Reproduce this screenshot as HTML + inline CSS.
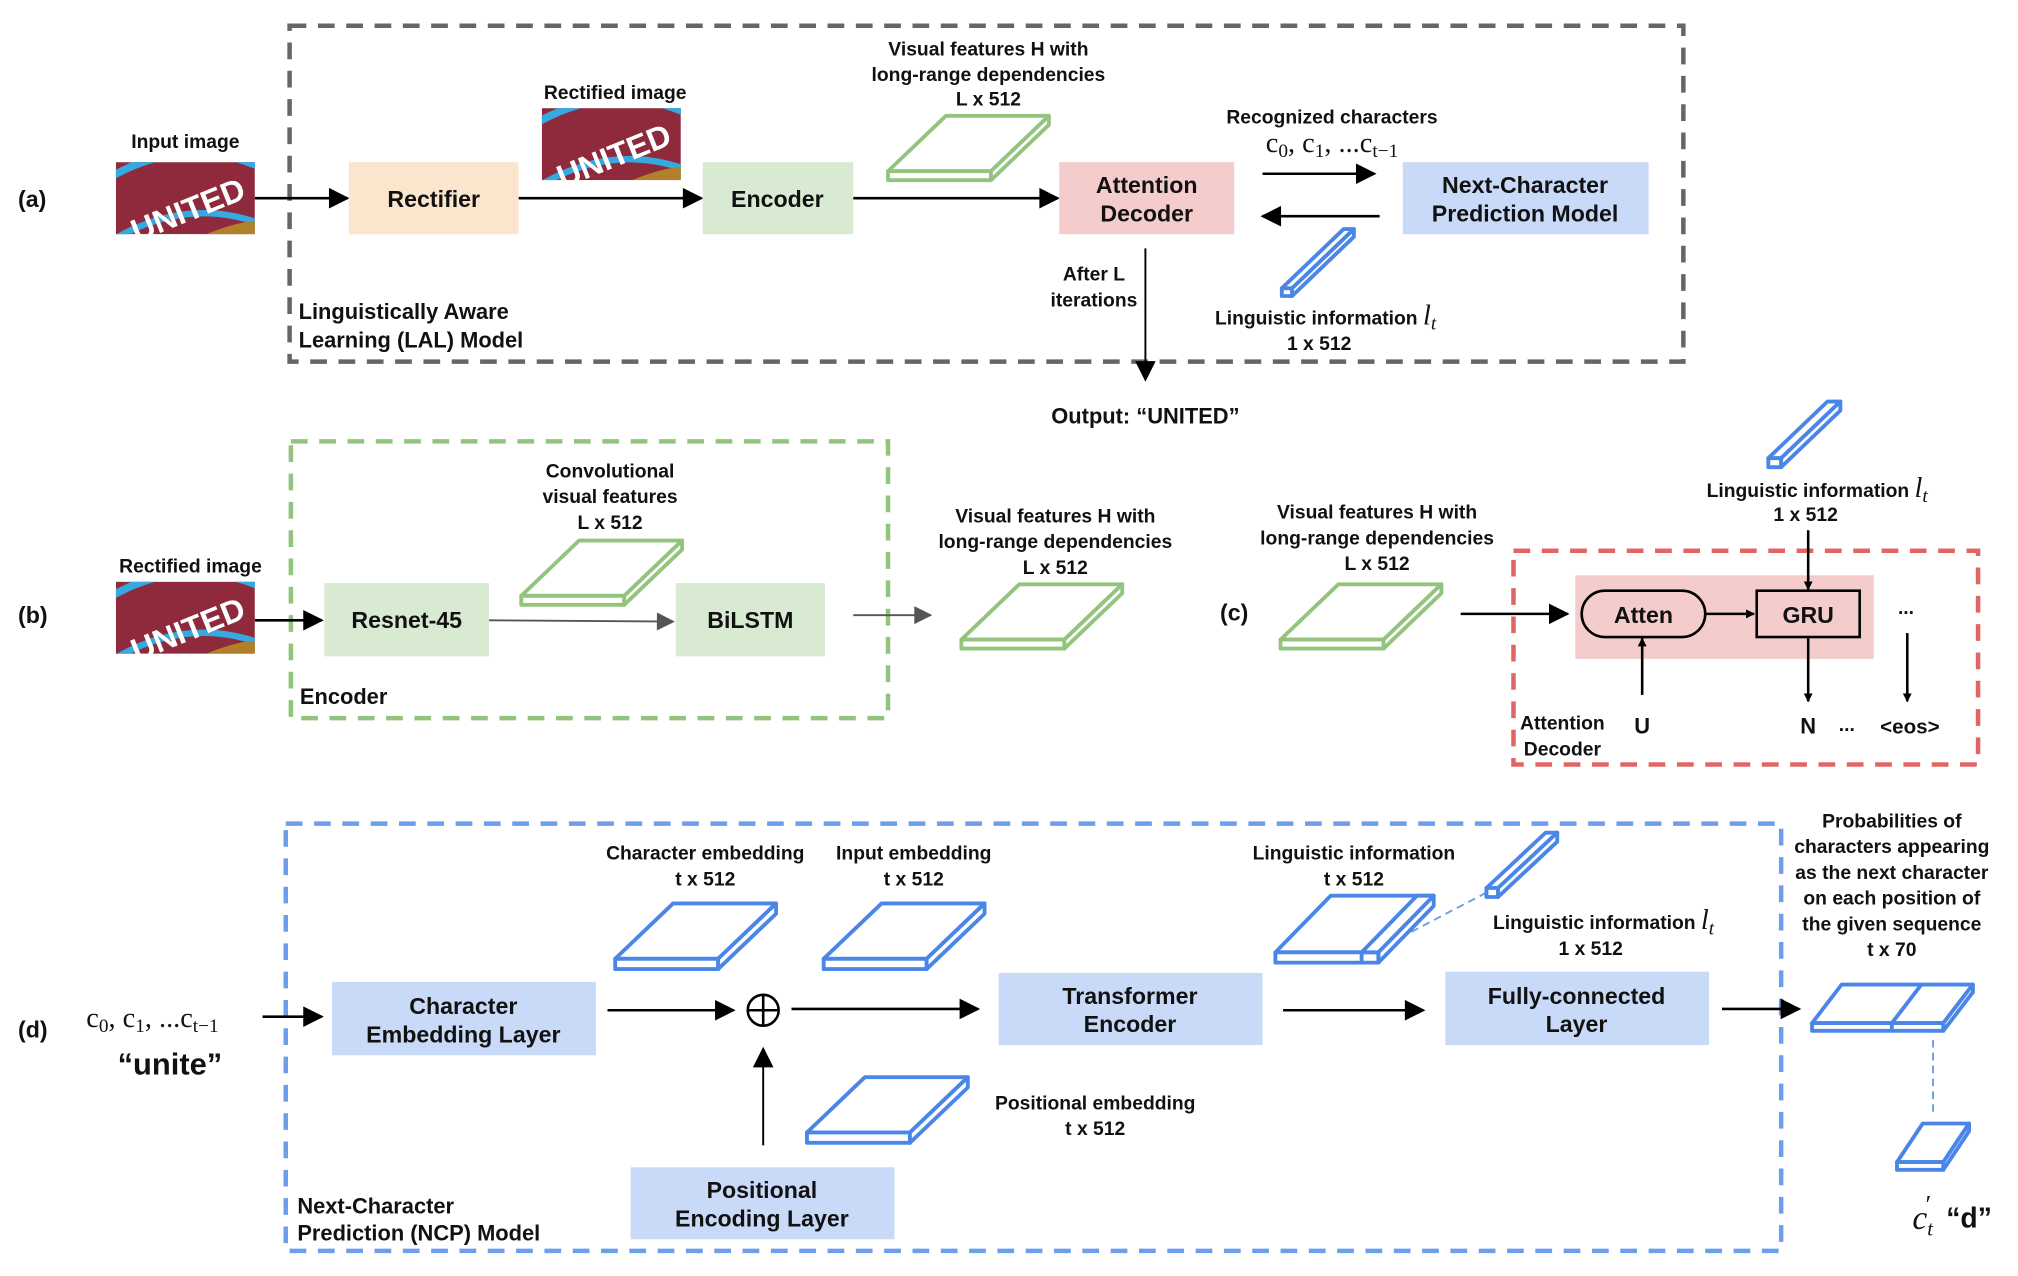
<!DOCTYPE html>
<html><head><meta charset="utf-8"><style>
html,body{margin:0;padding:0;background:#fff}
svg{display:block}
text{font-family:"Liberation Sans",sans-serif;font-weight:bold;fill:#111}
.s{font-family:"Liberation Serif",serif;font-weight:normal}
</style></head><body>
<svg width="2018" height="1276" viewBox="0 0 1568 991.5" xmlns="http://www.w3.org/2000/svg">
<defs>
<marker id="ah" viewBox="0 0 10 10" refX="9" refY="5" markerWidth="7" markerHeight="7" markerUnits="userSpaceOnUse" orient="auto"><path d="M0,0L10,5L0,10z" fill="#000"/></marker>
<marker id="ab" viewBox="0 0 10 10" refX="9" refY="5" markerWidth="18" markerHeight="16" markerUnits="userSpaceOnUse" orient="auto"><path d="M0,0L10,5L0,10z" fill="#000"/></marker>
<marker id="ag" viewBox="0 0 10 10" refX="9" refY="5" markerWidth="18" markerHeight="14" markerUnits="userSpaceOnUse" orient="auto"><path d="M0,0L10,5L0,10z" fill="#555"/></marker>
<clipPath id="cp"><rect width="108" height="56"/></clipPath>
<g id="img">
<g clip-path="url(#cp)">
<rect width="108" height="56" fill="#8e2a3c"/>
<path d="M-5,12 Q54,-22 113,4" stroke="#35a9e0" stroke-width="6" fill="none"/>
<path d="M-5,62 Q54,26 113,48" stroke="#35a9e0" stroke-width="5" fill="none"/>
<path d="M70,56 Q95,46 108,46 L108,56z" fill="#b0802a"/>
<text x="54" y="46" text-anchor="middle" transform="rotate(-22 54 32)" style="fill:#fff;font-size:25px">UNITED</text>
</g>
</g>
</defs>

<!-- (a) -->
<rect x="225" y="20" width="1083" height="261" fill="none" stroke="#666" stroke-width="3.5" stroke-dasharray="13 9"/>
<text x="14" y="161" font-size="18">(a)</text>
<text x="144" y="115" font-size="15" text-anchor="middle">Input image</text>
<use href="#img" x="90" y="126"/>
<line x1="198" y1="154" x2="270" y2="154" stroke="#000" stroke-width="2" marker-end="url(#ab)"/>
<rect x="271" y="126" width="132" height="56" fill="#fce5cd"/>
<text x="337" y="161" font-size="18" text-anchor="middle">Rectifier</text>
<text x="478" y="77" font-size="15" text-anchor="middle">Rectified image</text>
<use href="#img" x="421" y="84"/>
<line x1="403" y1="154" x2="545" y2="154" stroke="#000" stroke-width="2" marker-end="url(#ab)"/>
<rect x="546" y="126" width="117" height="56" fill="#d9ead3"/>
<text x="604" y="161" font-size="18" text-anchor="middle">Encoder</text>
<text x="768" y="43" font-size="15" text-anchor="middle">Visual features H with</text>
<text x="768" y="63" font-size="15" text-anchor="middle">long-range dependencies</text>
<text x="768" y="82" font-size="15" text-anchor="middle">L x 512</text>
<line x1="663" y1="154" x2="822" y2="154" stroke="#000" stroke-width="2" marker-end="url(#ab)"/>
<rect x="823" y="126" width="136" height="56" fill="#f4cccc"/>
<text x="891" y="150" font-size="18" text-anchor="middle">Attention</text>
<text x="891" y="172" font-size="18" text-anchor="middle">Decoder</text>
<text x="1035" y="96" font-size="15" text-anchor="middle">Recognized characters</text>
<text x="1035" y="118" class="s" font-size="22" text-anchor="middle">c<tspan font-size="15" dy="4">0</tspan><tspan dy="-4">, c</tspan><tspan font-size="15" dy="4">1</tspan><tspan dy="-4">, ...c</tspan><tspan font-size="15" dy="4">t−1</tspan></text>
<line x1="981" y1="135" x2="1068" y2="135" stroke="#000" stroke-width="2" marker-end="url(#ab)"/>
<line x1="1072" y1="168" x2="981" y2="168" stroke="#000" stroke-width="2" marker-end="url(#ab)"/>
<rect x="1090" y="126" width="191" height="56" fill="#c9daf8"/>
<text x="1185" y="150" font-size="18" text-anchor="middle">Next-Character</text>
<text x="1185" y="172" font-size="18" text-anchor="middle">Prediction Model</text>
<g fill="#fff" stroke="#4a86e8" stroke-width="3" stroke-linejoin="round">
<polygon points="996,224 1004,224 1052,178 1044,178"/><rect x="996" y="224" width="8" height="6"/><polygon points="1004,224 1052,178 1052,184 1004,230"/></g>
<text x="1030" y="252" font-size="15" text-anchor="middle">Linguistic information <tspan class="s" font-style="italic" font-size="22">l<tspan font-size="15" dy="4">t</tspan></tspan></text>
<text x="1025" y="272" font-size="15" text-anchor="middle">1 x 512</text>
<line x1="890" y1="193" x2="890" y2="295" stroke="#000" stroke-width="1.5" marker-end="url(#ab)"/>
<text x="850" y="218" font-size="15" text-anchor="middle">After L</text>
<text x="850" y="238" font-size="15" text-anchor="middle">iterations</text>
<text x="232" y="248" font-size="17">Linguistically Aware</text>
<text x="232" y="270" font-size="17">Learning (LAL) Model</text>
<text x="890" y="329" font-size="17" text-anchor="middle">Output: “UNITED”</text>

<g fill="#fff" stroke="#93c47d" stroke-width="3" stroke-linejoin="round">
<polygon points="690,133 770,133 815,90 735,90"/><rect x="690" y="133" width="80" height="7"/><polygon points="770,133 815,90 815,97 770,140"/>
<polygon points="405,463 485,463 530,420 450,420"/><rect x="405" y="463" width="80" height="7"/><polygon points="485,463 530,420 530,427 485,470"/>
<polygon points="747,497 827,497 872,454 792,454"/><rect x="747" y="497" width="80" height="7"/><polygon points="827,497 872,454 872,461 827,504"/>
<polygon points="995,497 1075,497 1120,454 1040,454"/><rect x="995" y="497" width="80" height="7"/><polygon points="1075,497 1120,454 1120,461 1075,504"/>
</g>

<!-- (b) -->
<rect x="226" y="343" width="464" height="215" fill="none" stroke="#93c47d" stroke-width="3.5" stroke-dasharray="13 9"/>
<text x="14" y="484" font-size="18">(b)</text>
<text x="148" y="445" font-size="15" text-anchor="middle">Rectified image</text>
<use href="#img" x="90" y="452"/>
<line x1="198" y1="482" x2="250" y2="482" stroke="#000" stroke-width="2" marker-end="url(#ab)"/>
<rect x="252" y="453" width="128" height="57" fill="#d9ead3"/>
<text x="316" y="488" font-size="18" text-anchor="middle">Resnet-45</text>
<line x1="380" y1="482" x2="523" y2="483" stroke="#555" stroke-width="1.5" marker-end="url(#ag)"/>
<rect x="525" y="453" width="116" height="57" fill="#d9ead3"/>
<text x="583" y="488" font-size="18" text-anchor="middle">BiLSTM</text>
<text x="474" y="371" font-size="15" text-anchor="middle">Convolutional</text>
<text x="474" y="391" font-size="15" text-anchor="middle">visual features</text>
<text x="474" y="411" font-size="15" text-anchor="middle">L x 512</text>
<text x="233" y="547" font-size="17">Encoder</text>
<line x1="663" y1="478" x2="723" y2="478" stroke="#555" stroke-width="1.5" marker-end="url(#ag)"/>
<text x="820" y="406" font-size="15" text-anchor="middle">Visual features H with</text>
<text x="820" y="426" font-size="15" text-anchor="middle">long-range dependencies</text>
<text x="820" y="446" font-size="15" text-anchor="middle">L x 512</text>

<!-- (c) -->
<text x="948" y="482" font-size="18">(c)</text>
<text x="1070" y="403" font-size="15" text-anchor="middle">Visual features H with</text>
<text x="1070" y="423" font-size="15" text-anchor="middle">long-range dependencies</text>
<text x="1070" y="443" font-size="15" text-anchor="middle">L x 512</text>
<line x1="1135" y1="477" x2="1218" y2="477" stroke="#000" stroke-width="2" marker-end="url(#ab)"/>
<rect x="1176" y="428" width="361" height="166" fill="none" stroke="#e06666" stroke-width="3.5" stroke-dasharray="13 9"/>
<rect x="1224" y="447" width="232" height="65" fill="#f4cccc"/>
<rect x="1229" y="459" width="96" height="36" rx="18" fill="#f4cccc" stroke="#000" stroke-width="2"/>
<text x="1277" y="484" font-size="18" text-anchor="middle">Atten</text>
<line x1="1325" y1="477" x2="1363" y2="477" stroke="#000" stroke-width="2" marker-end="url(#ah)"/>
<rect x="1365" y="459" width="80" height="36" fill="#f4cccc" stroke="#000" stroke-width="2"/>
<text x="1405" y="484" font-size="18" text-anchor="middle">GRU</text>
<g fill="#fff" stroke="#4a86e8" stroke-width="3" stroke-linejoin="round">
<polygon points="1374,356 1384,356 1430,312 1420,312"/><rect x="1374" y="356" width="10" height="7"/><polygon points="1384,356 1430,312 1430,319 1384,363"/></g>
<text x="1412" y="386" font-size="15" text-anchor="middle">Linguistic information <tspan class="s" font-style="italic" font-size="22">l<tspan font-size="15" dy="4">t</tspan></tspan></text>
<text x="1403" y="405" font-size="15" text-anchor="middle">1 x 512</text>
<line x1="1405" y1="412" x2="1405" y2="458" stroke="#000" stroke-width="2" marker-end="url(#ah)"/>
<text x="1481" y="477" font-size="15" text-anchor="middle">...</text>
<line x1="1482" y1="492" x2="1482" y2="545" stroke="#000" stroke-width="2" marker-end="url(#ah)"/>
<line x1="1276" y1="540" x2="1276" y2="496" stroke="#000" stroke-width="2" marker-end="url(#ah)"/>
<line x1="1405" y1="496" x2="1405" y2="545" stroke="#000" stroke-width="2" marker-end="url(#ah)"/>
<text x="1214" y="567" font-size="15" text-anchor="middle">Attention</text>
<text x="1214" y="587" font-size="15" text-anchor="middle">Decoder</text>
<text x="1276" y="570" font-size="17" text-anchor="middle">U</text>
<text x="1405" y="570" font-size="17" text-anchor="middle">N</text>
<text x="1435" y="568" font-size="15" text-anchor="middle">...</text>
<text x="1484" y="570" font-size="16" text-anchor="middle">&lt;eos&gt;</text>

<!-- (d) -->
<rect x="222" y="640" width="1162" height="332" fill="none" stroke="#6d9eeb" stroke-width="3.5" stroke-dasharray="13 9"/>
<text x="14" y="806" font-size="18">(d)</text>
<text x="67" y="798" class="s" font-size="22">c<tspan font-size="15" dy="4">0</tspan><tspan dy="-4">, c</tspan><tspan font-size="15" dy="4">1</tspan><tspan dy="-4">, ...c<tspan font-size="15" dy="4">t−1</tspan></tspan></text>
<text x="132" y="835" font-size="24" text-anchor="middle">“unite”</text>
<line x1="204" y1="790" x2="250" y2="790" stroke="#000" stroke-width="2" marker-end="url(#ab)"/>
<rect x="258" y="763" width="205" height="57" fill="#c9daf8"/>
<text x="360" y="788" font-size="18" text-anchor="middle">Character</text>
<text x="360" y="810" font-size="18" text-anchor="middle">Embedding Layer</text>
<line x1="472" y1="785" x2="570" y2="785" stroke="#000" stroke-width="2" marker-end="url(#ab)"/>
<circle cx="593" cy="785" r="12" fill="none" stroke="#000" stroke-width="2"/>
<line x1="581" y1="785" x2="605" y2="785" stroke="#000" stroke-width="2"/>
<line x1="593" y1="773" x2="593" y2="797" stroke="#000" stroke-width="2"/>
<line x1="615" y1="784" x2="760" y2="784" stroke="#000" stroke-width="2" marker-end="url(#ab)"/>
<line x1="593" y1="890" x2="593" y2="815" stroke="#000" stroke-width="1.5" marker-end="url(#ab)"/>
<text x="548" y="668" font-size="15" text-anchor="middle">Character embedding</text>
<text x="548" y="688" font-size="15" text-anchor="middle">t x 512</text>
<text x="710" y="668" font-size="15" text-anchor="middle">Input embedding</text>
<text x="710" y="688" font-size="15" text-anchor="middle">t x 512</text>
<text x="851" y="862" font-size="15" text-anchor="middle">Positional embedding</text>
<text x="851" y="882" font-size="15" text-anchor="middle">t x 512</text>
<rect x="776" y="756" width="205" height="56" fill="#c9daf8"/>
<text x="878" y="780" font-size="18" text-anchor="middle">Transformer</text>
<text x="878" y="802" font-size="18" text-anchor="middle">Encoder</text>
<line x1="997" y1="785" x2="1106" y2="785" stroke="#000" stroke-width="2" marker-end="url(#ab)"/>
<rect x="1123" y="755" width="205" height="57" fill="#c9daf8"/>
<text x="1225" y="780" font-size="18" text-anchor="middle">Fully-connected</text>
<text x="1225" y="802" font-size="18" text-anchor="middle">Layer</text>
<line x1="1338" y1="784" x2="1398" y2="784" stroke="#000" stroke-width="2" marker-end="url(#ab)"/>
<rect x="490" y="907" width="205" height="56" fill="#c9daf8"/>
<text x="592" y="931" font-size="18" text-anchor="middle">Positional</text>
<text x="592" y="953" font-size="18" text-anchor="middle">Encoding Layer</text>
<text x="231" y="943" font-size="17">Next-Character</text>
<text x="231" y="964" font-size="17">Prediction (NCP) Model</text>
<text x="1052" y="668" font-size="15" text-anchor="middle">Linguistic information</text>
<text x="1052" y="688" font-size="15" text-anchor="middle">t x 512</text>
<text x="1246" y="722" font-size="15" text-anchor="middle">Linguistic information <tspan class="s" font-style="italic" font-size="22">l<tspan font-size="15" dy="4">t</tspan></tspan></text>
<text x="1236" y="742" font-size="15" text-anchor="middle">1 x 512</text>
<text x="1470" y="643" font-size="15" text-anchor="middle">Probabilities of</text>
<text x="1470" y="663" font-size="15" text-anchor="middle">characters appearing</text>
<text x="1470" y="683" font-size="15" text-anchor="middle">as the next character</text>
<text x="1470" y="703" font-size="15" text-anchor="middle">on each position of</text>
<text x="1470" y="723" font-size="15" text-anchor="middle">the given sequence</text>
<text x="1470" y="743" font-size="15" text-anchor="middle">t x 70</text>
<line x1="1070" y1="738" x2="1158" y2="692" stroke="#6d9eeb" stroke-width="1.5" stroke-dasharray="6 4"/>
<line x1="1502" y1="808" x2="1502" y2="866" stroke="#6d9eeb" stroke-width="1.5" stroke-dasharray="6 4"/>
<g fill="#fff" stroke="#4a86e8" stroke-width="3" stroke-linejoin="round">
<polygon points="478,745 558,745 603,702 523,702"/><rect x="478" y="745" width="80" height="8"/><polygon points="558,745 603,702 603,710 558,753"/>
<polygon points="640,745 720,745 765,702 685,702"/><rect x="640" y="745" width="80" height="8"/><polygon points="720,745 765,702 765,710 720,753"/>
<polygon points="627,880 707,880 752,837 672,837"/><rect x="627" y="880" width="80" height="8"/><polygon points="707,880 752,837 752,845 707,888"/>
<polygon points="991,740 1071,740 1114,696 1034,696"/><rect x="991" y="740" width="80" height="8"/><polygon points="1071,740 1114,696 1114,704 1071,748"/>
<rect x="1058" y="740" width="13" height="8"/><polygon points="1058,740 1071,740 1114,696 1101,696"/>
<polygon points="1155,690 1164,690 1210,647 1201,647"/><rect x="1155" y="690" width="9" height="7"/><polygon points="1164,690 1210,647 1210,654 1164,697"/>
<polygon points="1408,795 1510,795 1533,765 1431,765"/><rect x="1408" y="795" width="102" height="6"/><polygon points="1510,795 1533,765 1533,771 1510,801"/>
<line x1="1470" y1="795" x2="1493" y2="765"/><line x1="1470" y1="795" x2="1470" y2="801"/>
<polygon points="1474,903 1510,903 1530,873 1494,873"/><rect x="1474" y="903" width="36" height="6"/><polygon points="1510,903 1530,873 1530,879 1510,909"/>
</g>
<text x="1486" y="955" class="s" font-style="italic" font-size="26">c<tspan font-size="16" dy="5">t</tspan><tspan font-size="20" dx="-7" dy="-18">′</tspan></text>
<text x="1530" y="954" font-size="22" text-anchor="middle">“d”</text>
</svg>
</body></html>
